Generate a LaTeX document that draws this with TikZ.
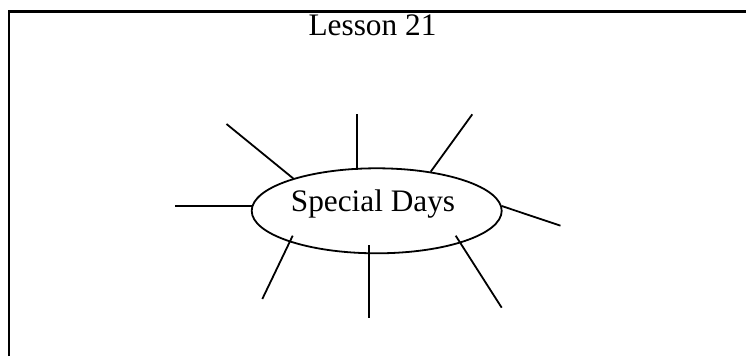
\documentclass[tikz,border=0pt]{standalone}
\usepackage{fontspec}
\setmainfont{Liberation Serif}
\usetikzlibrary{shapes.geometric}
\begin{document}
\begin{tikzpicture}[x=1pt,y=-1pt,
  spoke/.style={line width=1.8pt},
  frameline/.style={line width=2.2pt},
  big/.style={font=\fontsize{31.3}{37}\selectfont, inner sep=0pt}]
\useasboundingbox (0,0) rectangle (746,356);
\fill[white] (0,0) rectangle (746,356);
% frame (extends beyond the right and bottom edges)
\coordinate (fbl) at (9,356);
\coordinate (ftl) at (9,11.5);
\coordinate (ftr) at (746,11.5);
\draw[frameline] (fbl) -- (ftl) -- (ftr);
% title
\node[big, anchor=base] (title) at (372.5,35) {Lesson 21};
% central ellipse
\node[ellipse, draw, line width=1.8pt, minimum width=250pt, minimum height=85pt, inner sep=0pt] (hub) at (376.7,210.8) {};
\node[big, anchor=base] (hubtext) at (373,211.7) {Special Days};
% spoke ends
\coordinate (a1) at (293.3,178.5); \coordinate (b1) at (226.5,124);
\coordinate (a2) at (357.3,169.5); \coordinate (b2) at (357.3,114);
\coordinate (a3) at (430.7,171.7); \coordinate (b3) at (472.3,114.3);
\coordinate (a4) at (251.7,206);   \coordinate (b4) at (175,206);
\coordinate (a5) at (501.7,206);   \coordinate (b5) at (560.5,225.7);
\coordinate (a6) at (292.7,235.7); \coordinate (b6) at (262.3,299);
\coordinate (a7) at (369.3,245);   \coordinate (b7) at (369.3,318.3);
\coordinate (a8) at (455.7,235.7); \coordinate (b8) at (501.7,307.7);
\foreach \i in {1,...,8} \draw[spoke] (a\i) -- (b\i);
\end{tikzpicture}
\end{document}
